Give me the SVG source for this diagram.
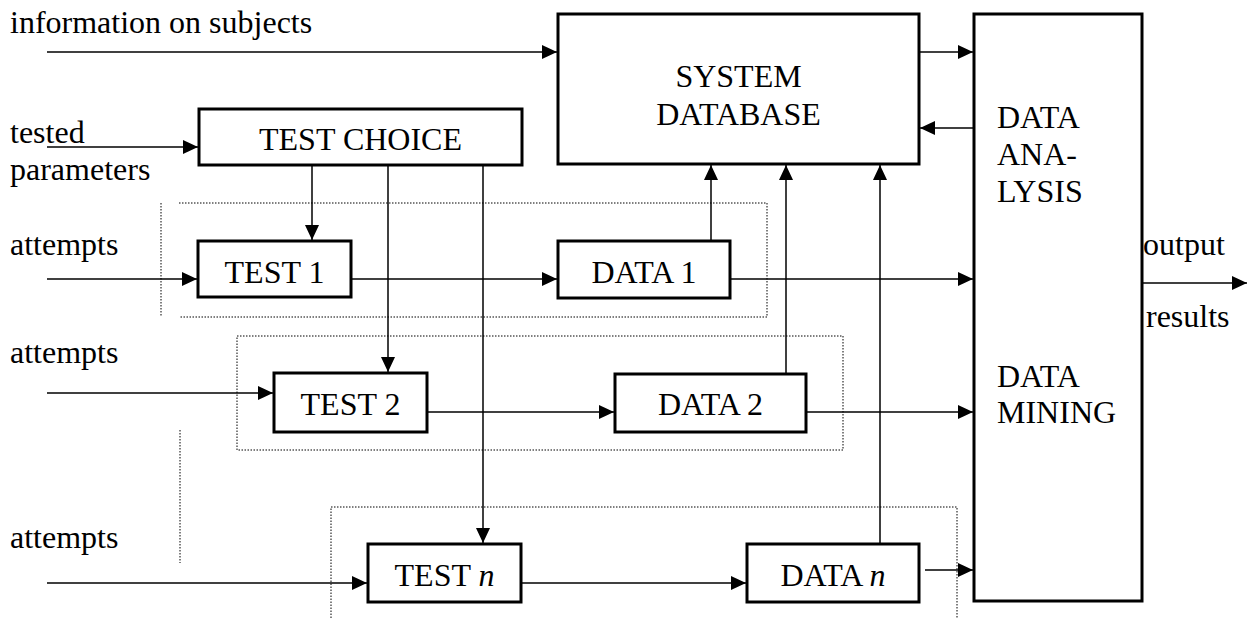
<svg xmlns="http://www.w3.org/2000/svg" width="1249" height="618" viewBox="0 0 1249 618">
  <style>
    .box { fill: #fff; stroke: #000; stroke-width: 3; }
    .lbl { font-family: "Liberation Serif", "Times New Roman", serif; font-size: 32px; fill: #000; }
    .mid { text-anchor: middle; }
    .wire { fill: none; stroke: #000; stroke-width: 1.5; }
    .dot { fill: none; stroke: #000; stroke-width: 1; stroke-dasharray: 1.5 1.5; }
  </style>
  <defs>
    <marker id="arrow" viewBox="0 0 15 14" refX="15" refY="7" markerWidth="15" markerHeight="14" markerUnits="userSpaceOnUse" orient="auto">
      <path d="M0,0 L15,7 L0,14 Z" fill="#000"/>
    </marker>
  </defs>
  <rect width="1249" height="618" fill="#fff"/>

  <!-- dotted group frames -->
  <g id="frames">
    <path class="dot" d="M161,203 V316 M179,203 H767 V317 H179"/>
    <path class="dot" d="M237,336 H843 V450 H237 Z"/>
    <path class="dot" d="M180,430 V563"/>
    <path class="dot" d="M331,618 V507 H957 V618"/>
  </g>

  <!-- connectors -->
  <g id="connectors">
    <line class="wire" x1="47" y1="52" x2="557" y2="52" marker-end="url(#arrow)"/>
    <line class="wire" x1="47" y1="147" x2="198" y2="147" marker-end="url(#arrow)"/>
    <line class="wire" x1="312" y1="165" x2="312" y2="240" marker-end="url(#arrow)"/>
    <line class="wire" x1="388" y1="165" x2="388" y2="372" marker-end="url(#arrow)"/>
    <line class="wire" x1="483" y1="165" x2="483" y2="543" marker-end="url(#arrow)"/>
    <line class="wire" x1="47" y1="279" x2="197" y2="279" marker-end="url(#arrow)"/>
    <line class="wire" x1="351" y1="279" x2="557" y2="279" marker-end="url(#arrow)"/>
    <line class="wire" x1="730" y1="279" x2="973" y2="279" marker-end="url(#arrow)"/>
    <line class="wire" x1="47" y1="393" x2="273" y2="393" marker-end="url(#arrow)"/>
    <line class="wire" x1="427" y1="412" x2="614" y2="412" marker-end="url(#arrow)"/>
    <line class="wire" x1="806" y1="412" x2="973" y2="412" marker-end="url(#arrow)"/>
    <line class="wire" x1="47" y1="583" x2="367" y2="583" marker-end="url(#arrow)"/>
    <line class="wire" x1="521" y1="583" x2="746" y2="583" marker-end="url(#arrow)"/>
    <line class="wire" x1="925" y1="570" x2="973" y2="570" marker-end="url(#arrow)"/>
    <line class="wire" x1="711" y1="241" x2="711" y2="165" marker-end="url(#arrow)"/>
    <line class="wire" x1="786" y1="374" x2="786" y2="165" marker-end="url(#arrow)"/>
    <line class="wire" x1="880" y1="544" x2="880" y2="165" marker-end="url(#arrow)"/>
    <line class="wire" x1="919" y1="52" x2="973" y2="52" marker-end="url(#arrow)"/>
    <line class="wire" x1="974" y1="128" x2="920" y2="128" marker-end="url(#arrow)"/>
    <line class="wire" x1="1142" y1="283" x2="1247" y2="283" marker-end="url(#arrow)"/>
  </g>

  <!-- free labels -->
  <g id="labels">
    <text class="lbl" x="10" y="33">information on subjects</text>
    <text class="lbl" x="10" y="143">tested</text>
    <text class="lbl" x="10" y="180">parameters</text>
    <text class="lbl" x="10" y="255">attempts</text>
    <text class="lbl" x="10" y="363">attempts</text>
    <text class="lbl" x="10" y="548">attempts</text>
    <text class="lbl" x="1143" y="255">output</text>
    <text class="lbl" x="1146" y="327">results</text>
  </g>

  <g id="system-database">
    <rect class="box" x="558" y="14" width="361" height="150"/>
    <text class="lbl mid" x="738.5" y="87">SYSTEM</text>
    <text class="lbl mid" x="738.5" y="125">DATABASE</text>
  </g>

  <g id="data-analysis">
    <rect class="box" x="974" y="14" width="168" height="587"/>
    <text class="lbl" x="997" y="128">DATA</text>
    <text class="lbl" x="997" y="165">ANA-</text>
    <text class="lbl" x="997" y="202">LYSIS</text>
    <text class="lbl" x="997" y="387">DATA</text>
    <text class="lbl" x="997" y="423">MINING</text>
  </g>

  <g id="test-choice">
    <rect class="box" x="199" y="109" width="323" height="56"/>
    <text class="lbl mid" x="360.5" y="150">TEST CHOICE</text>
  </g>

  <g id="test-1">
    <rect class="box" x="198" y="241" width="153" height="56"/>
    <text class="lbl mid" x="274.5" y="283">TEST 1</text>
  </g>

  <g id="data-1">
    <rect class="box" x="558" y="241" width="172" height="57"/>
    <text class="lbl mid" x="644" y="283">DATA 1</text>
  </g>

  <g id="test-2">
    <rect class="box" x="274" y="373" width="153" height="59"/>
    <text class="lbl mid" x="350.5" y="415">TEST 2</text>
  </g>

  <g id="data-2">
    <rect class="box" x="615" y="374" width="191" height="58"/>
    <text class="lbl mid" x="710.5" y="415">DATA 2</text>
  </g>

  <g id="test-n">
    <rect class="box" x="368" y="544" width="153" height="58"/>
    <text class="lbl mid" x="444.5" y="586">TEST <tspan font-style="italic">n</tspan></text>
  </g>

  <g id="data-n">
    <rect class="box" x="747" y="544" width="172" height="58"/>
    <text class="lbl mid" x="833" y="586">DATA <tspan font-style="italic">n</tspan></text>
  </g>
</svg>
